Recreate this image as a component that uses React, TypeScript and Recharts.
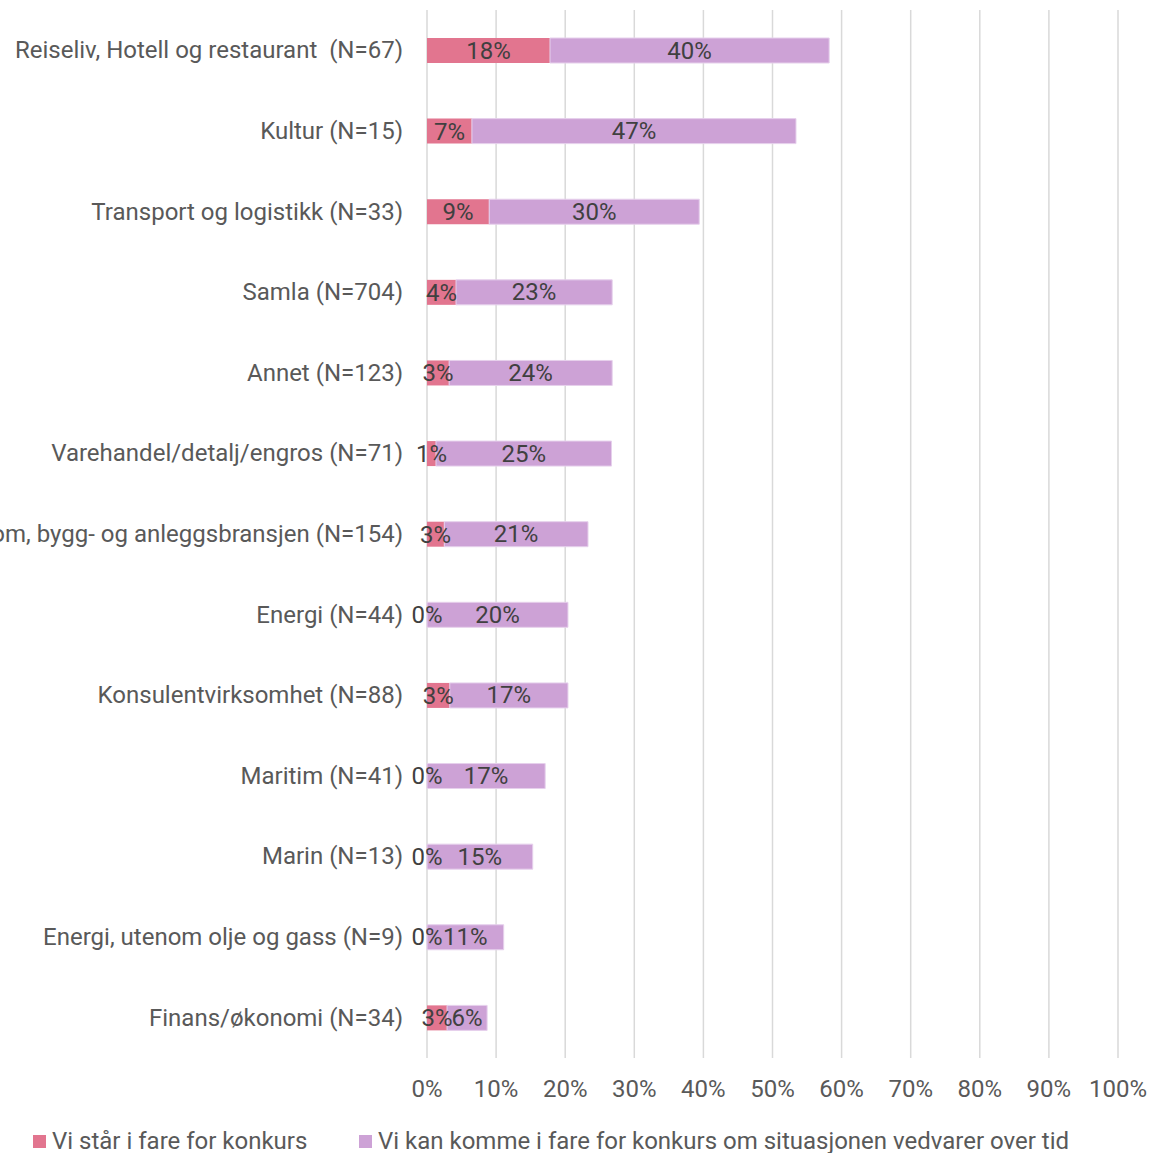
import React from "react"
import {
  BarChart,
  Bar,
  XAxis,
  YAxis,
  CartesianGrid,
  LabelList,
} from "recharts"

const categories = [
  "Reiseliv, Hotell og restaurant  (N=67)",
  "Kultur (N=15)",
  "Transport og logistikk (N=33)",
  "Samla (N=704)",
  "Annet (N=123)",
  "Varehandel/detalj/engros (N=71)",
  "Eiendom, bygg- og anleggsbransjen (N=154)",
  "Energi (N=44)",
  "Konsulentvirksomhet (N=88)",
  "Maritim (N=41)",
  "Marin (N=13)",
  "Energi, utenom olje og gass (N=9)",
  "Finans/økonomi (N=34)",
]

// share of firms at risk of bankruptcy now (%)
const atRisk = [17.8, 6.5, 9.0, 4.2, 3.2, 1.3, 2.5, 0, 3.3, 0, 0, 0, 2.9]
// share that may be at risk if the situation lasts (%)
const mayBeAtRisk = [40.4, 46.9, 30.4, 22.6, 23.6, 25.4, 20.8, 20.4, 17.1, 17.1, 15.3, 11.1, 5.8]

const xTicks = [0, 10, 20, 30, 40, 50, 60, 70, 80, 90, 100]

const seriesNames = [
  "Vi står i fare for konkurs",
  "Vi kan komme i fare for konkurs om situasjonen vedvarer over tid",
]

const PINK = "#E2758F"
const PURPLE = "#CDA2D6"
const FONT = "Roboto, sans-serif"
const FS = 24

const data = categories.map((name, i) => ({
  name,
  a: atRisk[i],
  b: mayBeAtRisk[i],
}))

const pct = (v: any) => `${Math.round(Number(v))}%`

// keeps the double space in the first category name
function CategoryTick(props: any) {
  const { x, y, payload } = props
  return (
    <text x={x} y={y} textAnchor="end" dominantBaseline="central" fill="#595959" fontSize={FS} fontFamily={FONT} style={{ whiteSpace: "pre" }}>
      {payload.value}
    </text>
  )
}

// label for the purple segment; also prints the "0%" of an empty pink segment
function PurpleLabel(props: any) {
  const { x, y, width, height, index, value } = props
  const cy = Number(y) + Number(height) / 2
  const first = data[index]?.a === 0
  return (
    <g>
      {first && (
        <text x={x} y={cy} textAnchor="middle" dominantBaseline="central" fill="#404040" fontSize={FS} fontFamily={FONT}>
          0%
        </text>
      )}
      <text x={Number(x) + Number(width) / 2} y={cy} textAnchor="middle" dominantBaseline="central" fill="#404040" fontSize={FS} fontFamily={FONT}>
        {pct(value)}
      </text>
    </g>
  )
}

function CustomLegend() {
  return (
    <div
      style={{
        position: "absolute",
        left: 0,
        top: 1127,
        width: 1150,
        height: 30,
        fontFamily: FONT,
        fontSize: FS,
        color: "#595959",
        whiteSpace: "nowrap",
      }}
    >
      <div style={{ position: "absolute", left: 33, top: 0, display: "flex", alignItems: "center" }}>
        <span style={{ width: 13, height: 13, background: PINK, marginRight: 6, display: "inline-block" }} />
        {seriesNames[0]}
      </div>
      <div style={{ position: "absolute", left: 359, top: 0, display: "flex", alignItems: "center" }}>
        <span style={{ width: 13, height: 13, background: PURPLE, marginRight: 6, display: "inline-block" }} />
        {seriesNames[1]}
      </div>
    </div>
  )
}

export default function App() {
  return (
    <div style={{ position: "absolute", left: 0, top: 0, width: 1150, height: 1153, overflow: "hidden", background: "#fff" }}>
      <BarChart
        width={1150}
        height={1153}
        data={data}
        layout="vertical"
        margin={{ top: 10, right: 32, left: 0, bottom: 0 }}
        barCategoryGap={0}
      >
        <CartesianGrid horizontal={false} stroke="#D9D9D9" strokeWidth={1.5} />
        <XAxis
          type="number"
          domain={[0, 100]}
          ticks={xTicks}
          tickFormatter={(v) => `${v}%`}
          axisLine={false}
          tickLine={false}
          tickSize={0}
          tickMargin={22}
          interval={0}
          height={95}
          tick={{ fontSize: FS, fill: "#595959", fontFamily: FONT }}
        />
        <YAxis
          type="category"
          dataKey="name"
          width={427}
          axisLine={false}
          tickLine={false}
          tickSize={0}
          tickMargin={24}
          interval={0}
          tick={<CategoryTick />}
        />
        <Bar dataKey="a" name={seriesNames[0]} stackId="s" fill={PINK} barSize={25} isAnimationActive={false}>
          <LabelList dataKey="a" position="center" formatter={pct} fill="#404040" fontSize={FS} fontFamily={FONT} />
        </Bar>
        <Bar dataKey="b" name={seriesNames[1]} stackId="s" fill={PURPLE} stroke="#E6D0EC" strokeWidth={1} barSize={25} isAnimationActive={false}>
          <LabelList dataKey="b" content={<PurpleLabel />} />
        </Bar>
      </BarChart>
      <CustomLegend />
    </div>
  )
}
